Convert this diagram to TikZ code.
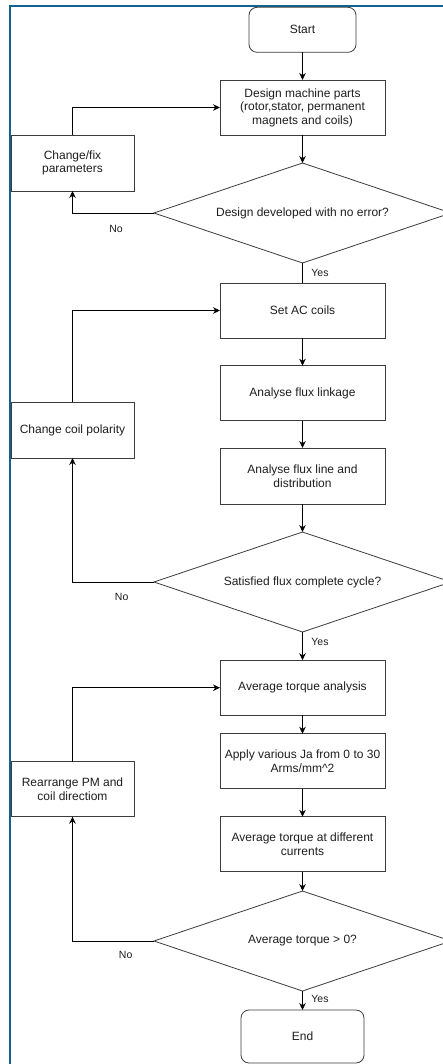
\documentclass[tikz,border=0pt]{standalone}
\usepackage{fontspec}
\setmainfont{Liberation Sans}
\usetikzlibrary{shapes.geometric,arrows.meta}
\definecolor{framecol}{RGB}{18,98,140}
\definecolor{boxline}{RGB}{60,60,60}
\definecolor{txt}{RGB}{30,30,30}
\tikzset{
  box/.style={draw=boxline, line width=0.8pt, fill=white, inner sep=0pt, outer sep=0pt,
    minimum width=165pt, minimum height=55pt, align=center, text=txt,
    font=\fontsize{12}{13.5}\selectfont},
  sidebox/.style={box, minimum width=123pt},
  term/.style={box, rounded corners=8pt},
  decision/.style={draw=boxline, line width=0.8pt, shape=diamond, aspect=2.97, inner sep=0pt, outer sep=0pt,
    minimum width=297pt, minimum height=100pt, align=center, text=txt,
    font=\fontsize{12}{13.5}\selectfont},
  conn/.style={line width=0.8pt, draw=black},
  arr/.style={conn, -{Stealth[length=7pt,width=6.5pt]}},
  lbl/.style={text=txt, inner sep=0pt, font=\fontsize{10.5}{12}\selectfont},
}
\begin{document}
\begin{tikzpicture}[x=1pt,y=-1pt]
\clip (0,0) rectangle (443,1064);
\fill[white] (0,0) rectangle (443,1064);
% frame
\draw[framecol, line width=2pt] (10,5.8) rectangle (470,1100);

% nodes
\node[term, minimum width=107pt, minimum height=45pt] (start) at (302.5,29.8) {Start};
\node[box] (design) at (302.5,107.5) {Design machine parts\\(rotor,stator, permanent\\magnets and coils)};
\node[sidebox, minimum height=56pt] (changefix) at (72.5,163) {Change/fix\\parameters};
\node[decision] (d1) at (302.5,213) {Design developed with no error?};

\node[box] (setac) at (302.5,310.5) {Set AC coils};
\node[box] (linkage) at (302.5,393.2) {Analyse flux linkage};
\node[box, minimum height=56pt] (fluxline) at (302.5,476) {Analyse flux line and\\distribution};
\node[sidebox, minimum height=56pt] (coilpol) at (72.5,430) {Change coil polarity};
\node[decision] (d2) at (302.5,582) {Satisfied flux complete cycle?};

\node[box] (avgtorque) at (302.5,687.7) {Average torque analysis};
\node[box] (apply) at (302.5,761.3) {Apply various Ja from 0 to 30\\Arms/mm\^{}2};
\node[box] (avgdiff) at (302.5,844.3) {Average torque at different\\currents};
\node[sidebox] (rearrange) at (72.5,789.2) {Rearrange PM and\\coil directiom};
\node[decision] (d3) at (302.5,941) {Average torque \textgreater{} 0?};

\node[term, minimum width=123pt, minimum height=53pt] (end) at (302.5,1036.5) {End};

% connectors
\draw[arr] (start.south) -- (design.north);
\draw[arr] (design.south) -- (d1.north);
\draw[arr] (d1.west) -| (changefix.south);
\draw[arr] (changefix.north) |- (design.west);
\draw[conn] (d1.south) -- (setac.north);

\draw[arr] (setac.south) -- (linkage.north);
\draw[arr] (linkage.south) -- (fluxline.north);
\draw[arr] (fluxline.south) -- (d2.north);
\draw[arr] (d2.west) -| (coilpol.south);
\draw[arr] (coilpol.north) |- (setac.west);
\draw[arr] (d2.south) -- (avgtorque.north);

\draw[arr] (avgtorque.south) -- (apply.north);
\draw[arr] (apply.south) -- (avgdiff.north);
\draw[arr] (avgdiff.south) -- (d3.north);
\draw[arr] (d3.west) -| (rearrange.south);
\draw[arr] (rearrange.north) |- (avgtorque.west);
\draw[arr] (d3.south) -- (end.north);

% labels
\node[lbl] (no1) at (116,229) {No};
\node[lbl] (yes1) at (320,273) {Yes};
\node[lbl] (no2) at (121.7,596.7) {No};
\node[lbl] (yes2) at (320,642) {Yes};
\node[lbl] (no3) at (125.7,955.3) {No};
\node[lbl] (yes3) at (320,999) {Yes};
\end{tikzpicture}
\end{document}
